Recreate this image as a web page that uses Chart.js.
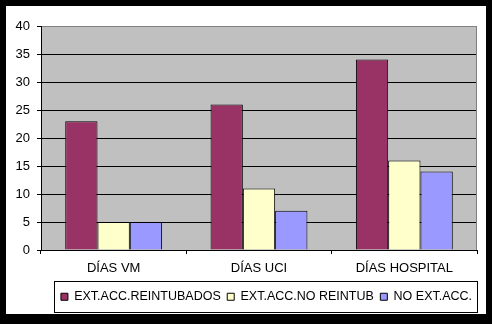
<!DOCTYPE html>
<html>
<head>
<meta charset="utf-8">
<script src="https://cdn.jsdelivr.net/npm/chart.js@4.4.1/dist/chart.umd.min.js"></script>
<style>
  html, body { margin: 0; padding: 0; background: #000; }
  #frame { position: absolute; left: 6px; top: 6px; width: 480px; height: 308px; background: #fff; }
</style>
</head>
<body>
<div id="frame"><canvas id="chart"></canvas></div>
<script>
const categories = ['DÍAS VM', 'DÍAS UCI', 'DÍAS HOSPITAL'];
const seriesNames = ['EXT.ACC.REINTUBADOS', 'EXT.ACC.NO REINTUB', 'NO EXT.ACC.'];
const reintubados = [23, 26, 34];
const noReintub = [5, 11, 16];
const noExtAcc = [5, 7, 14];
const yMin = 0, yMax = 40, yStep = 5;

const seriesColors = ['#993366', '#ffffcc', '#9999ff'];

// legend frame, in canvas pixels; items are centred on legendCenter
const legendBox = { left: 48, top: 275, width: 423, height: 31 };
const legendCenter = 260.5;

Chart.defaults.font.family = "'Liberation Sans', Arial, sans-serif";
Chart.defaults.font.size = 13;
Chart.defaults.color = '#000';

const excelFrame = {
    id: 'excelFrame',
    beforeDraw: function (chart) {
        const { ctx, chartArea: a } = chart;
        ctx.save();
        ctx.fillStyle = '#c0c0c0';
        ctx.fillRect(a.left, a.top, a.right - a.left, a.bottom - a.top);
        ctx.restore();
    },
    afterLayout: function (chart) {
        const lg = chart.legend;
        lg.left = legendCenter - 240;
        lg.right = legendCenter + 240;
        lg.top = legendBox.top + 3;
    },
    afterDraw: function (chart) {
        const { ctx, chartArea: a } = chart;
        ctx.save();
        ctx.lineWidth = 1;
        ctx.strokeStyle = '#808080';
        ctx.beginPath();
        ctx.moveTo(Math.round(a.right) - 0.5, a.top);
        ctx.lineTo(Math.round(a.right) - 0.5, a.bottom);
        ctx.stroke();
        ctx.strokeStyle = '#000';
        ctx.strokeRect(legendBox.left + 0.5, legendBox.top + 0.5, legendBox.width, legendBox.height);
        ctx.restore();
    }
};

const values = [reintubados, noReintub, noExtAcc];

new Chart(document.getElementById('chart').getContext('2d'), {
    type: 'bar',
    data: {
        labels: categories,
        datasets: seriesNames.map(function (name, i) {
            return {
                label: name,
                data: values[i],
                backgroundColor: seriesColors[i],
                borderColor: '#000',
                borderWidth: 1,
                categoryPercentage: 2 / 3,
                barPercentage: 1
            };
        })
    },
    options: {
        responsive: true,
        maintainAspectRatio: false,
        animation: false,
        layout: { padding: { left: 0, right: 9, top: 20, bottom: 0 } },
        plugins: {
            legend: {
                display: true,
                position: 'bottom',
                labels: {
                    color: '#000',
                    font: { size: 12.5 },
                    boxWidth: 7,
                    boxHeight: 7,
                    padding: 6.5
                }
            },
            tooltip: { enabled: false }
        },
        scales: {
            x: {
                afterFit: function (scale) { scale.height = 35; },
                ticks: { color: '#000', padding: 7, maxRotation: 0 },
                grid: { drawOnChartArea: false, color: '#000', tickLength: 4 },
                border: { color: '#000' }
            },
            y: {
                min: yMin,
                max: yMax,
                afterFit: function (scale) { scale.width = 35; },
                ticks: { color: '#000', stepSize: yStep, padding: 7 },
                grid: {
                    color: function (c) { return c.tick && c.tick.value === yMax ? '#808080' : '#000'; },
                    tickColor: '#000',
                    tickLength: 4
                },
                border: { color: '#000' }
            }
        }
    },
    plugins: [excelFrame]
});
</script>
</body>
</html>
